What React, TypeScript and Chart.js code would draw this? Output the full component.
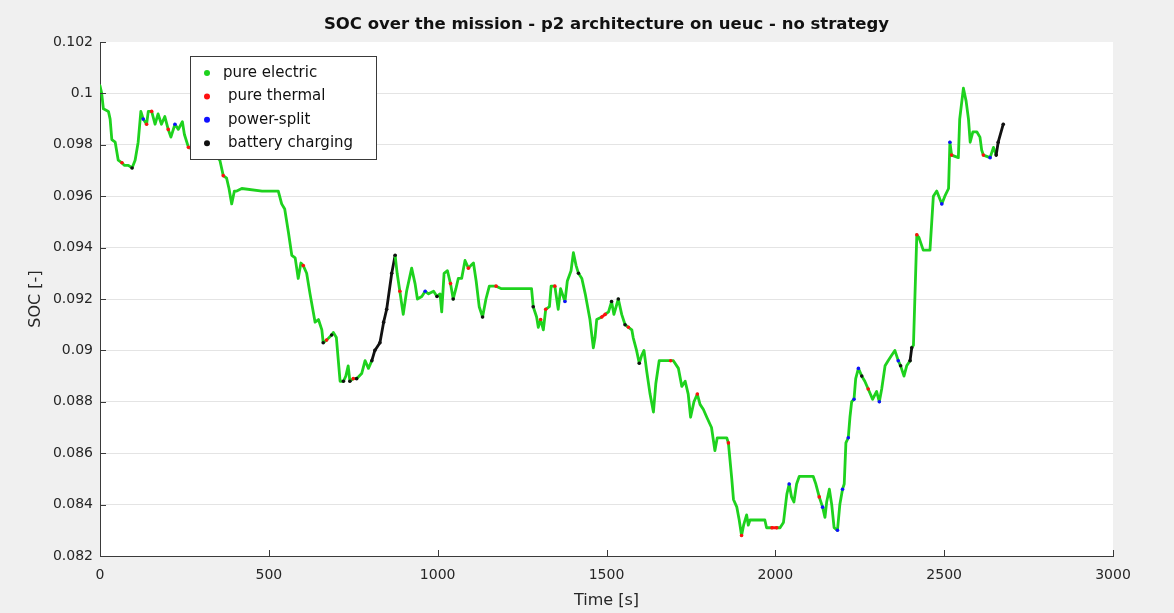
import React, { useEffect, useRef } from 'react';
import { Chart, registerables } from 'chart.js';

Chart.register(...registerables);

const TITLE = 'SOC over the mission - p2 architecture on ueuc - no strategy';
const X_LABEL = 'Time [s]';
const Y_LABEL = 'SOC [-]';
const X_TICKS = [0, 500, 1000, 1500, 2000, 2500, 3000];
const Y_TICKS = [0.082, 0.084, 0.086, 0.088, 0.09, 0.092, 0.094, 0.096, 0.098, 0.1, 0.102];
const LEGEND_LABELS = ['pure electric', 'pure thermal', 'power-split', 'battery charging'];
const MODE_KEYS = ['e', 't', 'p', 'c'];
const MODE_COLORS = ['#1ed21e', '#ff1010', '#1010ff', '#111111'];

// time [s]
const TIME = [
  0, 5, 10, 25, 30, 35, 45, 54, 65, 72,
  84, 95, 104, 113, 121, 128, 138, 143, 153, 163,
  172, 182, 192, 202, 210, 222, 232, 244, 250, 262,
  280, 310, 340, 355, 365, 375, 382, 390, 398, 405,
  420, 480, 528, 538, 547, 558, 568, 578, 587, 595,
  602, 612, 622, 637, 647, 657, 661, 671, 686, 691,
  700, 711, 721, 728, 735, 740, 750, 760, 775, 785,
  795, 805, 814, 829, 840, 849, 864, 874, 880, 888,
  898, 908, 923, 933, 940, 953, 963, 973, 988, 998,
  1007, 1012, 1019, 1029, 1038, 1046, 1054, 1061, 1071, 1081,
  1091, 1098, 1106, 1114, 1123, 1133, 1143, 1153, 1173, 1189,
  1278, 1283, 1293, 1298, 1305, 1313, 1320, 1331, 1336, 1347,
  1357, 1364, 1377, 1384, 1395, 1402, 1410, 1417, 1427, 1437,
  1451, 1461, 1466, 1471, 1486, 1496, 1506, 1515, 1522, 1535,
  1545, 1555, 1565, 1575, 1579, 1589, 1597, 1604, 1611, 1619,
  1629, 1639, 1646, 1656, 1668, 1690, 1698, 1713, 1723, 1733,
  1742, 1749, 1759, 1769, 1777, 1787, 1797, 1811, 1821, 1828,
  1841, 1856, 1861, 1871, 1876, 1886, 1893, 1900, 1906, 1915,
  1920, 1925, 1969, 1974, 1990, 2004, 2014, 2024, 2034, 2041,
  2048, 2055, 2063, 2071, 2112, 2120, 2130, 2140, 2147, 2152,
  2160, 2167, 2174, 2184, 2191, 2199, 2204, 2209, 2216, 2221,
  2226, 2233, 2238, 2246, 2256, 2265, 2275, 2288, 2300, 2308,
  2315, 2325, 2334, 2344, 2354, 2364, 2371, 2381, 2389, 2399,
  2404, 2409, 2419, 2425, 2438, 2458, 2468, 2478, 2493, 2502,
  2513, 2517, 2522, 2542, 2546, 2557, 2565, 2572, 2577, 2585,
  2597, 2606, 2611, 2616, 2636, 2646, 2654, 2660, 2675,
];

// state of charge [-]
const SOC = [
  0.1003, 0.1000, 0.0994, 0.0993, 0.0990, 0.0982, 0.0981, 0.0974, 0.0973, 0.0972,
  0.0972, 0.0971, 0.0974, 0.0981, 0.0993, 0.0990, 0.0988, 0.0993, 0.0993, 0.0988,
  0.0992, 0.0988, 0.0991, 0.0986, 0.0983, 0.0988, 0.0986, 0.0989, 0.0984, 0.0979,
  0.0978, 0.0977, 0.0976, 0.0974, 0.0968, 0.0967, 0.0963, 0.0957, 0.0962, 0.0962,
  0.0963, 0.0962, 0.0962, 0.0957, 0.0955, 0.0946, 0.0937, 0.0936, 0.0928, 0.0934,
  0.0933, 0.0930, 0.0922, 0.0911, 0.0912, 0.0908, 0.0903, 0.0904, 0.0906, 0.0907,
  0.0905, 0.0888, 0.0888, 0.0890, 0.0894, 0.0888, 0.0889, 0.0889, 0.0891, 0.0896,
  0.0893, 0.0896, 0.0900, 0.0903, 0.0911, 0.0916, 0.0930, 0.0937, 0.0930, 0.0923,
  0.0914, 0.0923, 0.0932, 0.0926, 0.0920, 0.0921, 0.0923, 0.0922, 0.0923, 0.0921,
  0.0922, 0.0915, 0.0930, 0.0931, 0.0926, 0.0920, 0.0924, 0.0928, 0.0928, 0.0935,
  0.0932, 0.0933, 0.0934, 0.0927, 0.0917, 0.0913, 0.0920, 0.0925, 0.0925, 0.0924,
  0.0924, 0.0917, 0.0913, 0.0909, 0.0912, 0.0908, 0.0916, 0.0917, 0.0925, 0.0925,
  0.0916, 0.0924, 0.0919, 0.0927, 0.0931, 0.0938, 0.0933, 0.0930, 0.0928, 0.0922,
  0.0912, 0.0901, 0.0905, 0.0912, 0.0913, 0.0914, 0.0915, 0.0919, 0.0914, 0.0920,
  0.0914, 0.0910, 0.0909, 0.0908, 0.0905, 0.0900, 0.0895, 0.0898, 0.0900, 0.0892,
  0.0883, 0.0876, 0.0887, 0.0896, 0.0896, 0.0896, 0.0896, 0.0893, 0.0886, 0.0888,
  0.0883, 0.0874, 0.0880, 0.0883, 0.0879, 0.0877, 0.0874, 0.0870, 0.0861, 0.0866,
  0.0866, 0.0866, 0.0864, 0.0850, 0.0842, 0.0839, 0.0834, 0.0828, 0.0832, 0.0836,
  0.0832, 0.0834, 0.0834, 0.0831, 0.0831, 0.0831, 0.0831, 0.0833, 0.0844, 0.0848,
  0.0843, 0.0841, 0.0848, 0.0851, 0.0851, 0.0848, 0.0843, 0.0839, 0.0835, 0.0841,
  0.0846, 0.0840, 0.0831, 0.0830, 0.0840, 0.0846, 0.0848, 0.0864, 0.0866, 0.0874,
  0.0880, 0.0881, 0.0889, 0.0893, 0.0890, 0.0888, 0.0885, 0.0881, 0.0884, 0.0880,
  0.0885, 0.0894, 0.0896, 0.0898, 0.0900, 0.0896, 0.0894, 0.0890, 0.0894, 0.0896,
  0.0901, 0.0902, 0.0945, 0.0944, 0.0939, 0.0939, 0.0960, 0.0962, 0.0957, 0.0960,
  0.0963, 0.0981, 0.0976, 0.0975, 0.0990, 0.1002, 0.0997, 0.0990, 0.0981, 0.0985,
  0.0985, 0.0983, 0.0978, 0.0976, 0.0975, 0.0979, 0.0976, 0.0981, 0.0988,
];

// operating mode at each sample
// e = pure electric, t = pure thermal, p = power-split, c = battery charging
const MODE = [
  'e', 'e', 'e', 'e', 'e', 'e', 'e', 'e', 't', 'e',
  'e', 'c', 'e', 'e', 'e', 'p', 't', 'e', 't', 'e',
  'e', 'e', 'e', 't', 'e', 'p', 'e', 'e', 'e', 't',
  'e', 'e', 'e', 'e', 't', 'e', 'e', 'e', 'e', 'e',
  'e', 'e', 'e', 'e', 'e', 'e', 'e', 'e', 'e', 'e',
  't', 'e', 'e', 'e', 'e', 'e', 'c', 't', 'c', 'e',
  'e', 'e', 'c', 'e', 'e', 'c', 't', 'c', 'e', 'e',
  'e', 'c', 'c', 'c', 'c', 'c', 'c', 'c', 'e', 't',
  'e', 'e', 'e', 'e', 'e', 'e', 'p', 'e', 'e', 'c',
  'e', 'e', 'e', 'e', 't', 'c', 'e', 'e', 'e', 'e',
  't', 'e', 'e', 'e', 'e', 'c', 'e', 'e', 't', 'e',
  'e', 'c', 'e', 'e', 't', 'e', 't', 'e', 'e', 't',
  'e', 'e', 'p', 'e', 'e', 'e', 'e', 'c', 'e', 'e',
  'e', 'e', 'e', 'e', 't', 't', 'e', 'c', 'e', 'c',
  'e', 'c', 't', 'e', 'e', 'e', 'c', 'e', 'e', 'e',
  'e', 'e', 'e', 'e', 'e', 't', 'e', 'e', 'e', 'e',
  'e', 'e', 'e', 't', 'e', 'e', 'e', 'e', 'e', 'e',
  'e', 'e', 't', 'e', 'e', 'e', 'e', 't', 'e', 'e',
  'e', 'e', 'e', 'e', 't', 't', 'e', 'e', 'e', 'p',
  'e', 'e', 'e', 'e', 'e', 'e', 't', 'p', 'e', 'e',
  'e', 'e', 'e', 'p', 'e', 'p', 'e', 'e', 'p', 'e',
  'e', 'p', 'e', 'p', 'c', 'e', 't', 'e', 'e', 'p',
  'e', 'e', 'e', 'e', 'e', 'p', 'c', 'e', 'e', 'c',
  'c', 'e', 't', 'e', 'e', 'e', 'e', 'e', 'p', 'e',
  'e', 'p', 't', 'e', 'e', 'e', 'e', 'e', 'e', 'e',
  'e', 'e', 'e', 't', 'p', 'e', 'c', 'c', 'c',
];

const FONT = '"DejaVu Sans", "Liberation Sans", Arial, sans-serif';

export default function App() {
  const ref = useRef<HTMLCanvasElement | null>(null);

  useEffect(() => {
    const canvas = ref.current;
    if (!canvas) return;
    const points = TIME.map((t, i) => ({ x: t, y: SOC[i] }));
    const colorOf = (i: number) => MODE_COLORS[Math.max(0, MODE_KEYS.indexOf(MODE[i]))];
    const segColor = (ctx: any) => {
      const a = MODE[ctx.p0DataIndex];
      const b = MODE[ctx.p1DataIndex];
      return a === b ? colorOf(ctx.p0DataIndex) : MODE_COLORS[0];
    };

    const backgroundPlugin = {
      id: 'figureBackground',
      beforeDraw(chart: any) {
        const { ctx, chartArea: a, width, height } = chart;
        ctx.save();
        ctx.fillStyle = '#f0f0f0';
        ctx.fillRect(0, 0, width, height);
        ctx.fillStyle = '#ffffff';
        ctx.fillRect(a.left, a.top, a.right - a.left, a.bottom - a.top);
        ctx.restore();
      },
    };

    const decorPlugin = {
      id: 'matlabDecor',
      afterDraw(chart: any) {
        const { ctx, chartArea: a, scales } = chart;
        ctx.save();
        // inward tick marks
        ctx.strokeStyle = '#3a3a3a';
        ctx.lineWidth = 1;
        ctx.beginPath();
        X_TICKS.forEach((v) => {
          const px = Math.round(scales.x.getPixelForValue(v)) + 0.5;
          ctx.moveTo(px, a.bottom);
          ctx.lineTo(px, a.bottom - 6);
        });
        Y_TICKS.forEach((v) => {
          const py = Math.round(scales.y.getPixelForValue(v)) + 0.5;
          ctx.moveTo(a.left, py);
          ctx.lineTo(a.left + 6, py);
        });
        ctx.stroke();

        // title
        ctx.fillStyle = '#111111';
        ctx.font = `bold 16.5px ${FONT}`;
        ctx.textAlign = 'center';
        ctx.textBaseline = 'middle';
        ctx.fillText(TITLE, (a.left + a.right) / 2, 25);

        // legend box
        const lx = 190, ly = 56, lw = 186, lh = 103;
        ctx.fillStyle = '#ffffff';
        ctx.fillRect(lx, ly, lw, lh);
        ctx.strokeStyle = '#3a3a3a';
        ctx.strokeRect(lx + 0.5, ly + 0.5, lw, lh);
        ctx.font = `15px ${FONT}`;
        ctx.textAlign = 'left';
        LEGEND_LABELS.forEach((label, i) => {
          const y = 73 + i * 23.4;
          ctx.fillStyle = MODE_COLORS[i];
          ctx.beginPath();
          ctx.arc(207, y, 3, 0, Math.PI * 2);
          ctx.fill();
          ctx.fillStyle = '#111111';
          ctx.fillText(label, i === 0 ? 223 : 228, y);
        });
        ctx.restore();
      },
    };

    const chart = new Chart(canvas, {
      type: 'line',
      data: {
        datasets: [
          {
            label: 'SOC',
            data: points,
            borderColor: MODE_COLORS[0],
            borderWidth: 2.8,
            pointRadius: (ctx: any) => (MODE[ctx.dataIndex] === 'e' ? 0 : 1.8),
            pointBackgroundColor: (ctx: any) => colorOf(ctx.dataIndex),
            pointBorderWidth: 0,
            pointHoverRadius: 0,
            tension: 0,
            borderJoinStyle: 'round',
            borderCapStyle: 'round',
            segment: {
              borderColor: segColor,
            },
          } as any,
        ],
      },
      options: {
        animation: false,
        responsive: false,
        devicePixelRatio: 1,
        layout: { padding: { top: 42, right: 61, bottom: 0, left: 0 } },
        plugins: {
          legend: { display: false },
          tooltip: { enabled: false },
          title: { display: false },
        },
        scales: {
          x: {
            type: 'linear',
            min: 0,
            max: 3000,
            afterBuildTicks: (scale: any) => {
              scale.ticks = X_TICKS.map((v) => ({ value: v }));
            },
            afterFit: (scale: any) => {
              scale.height = 57;
            },
            grid: { display: false, drawTicks: false },
            border: { display: true, color: '#3a3a3a', width: 1 },
            ticks: {
              color: '#262626',
              font: { family: FONT, size: 14 },
              padding: 11,
              maxRotation: 0,
              autoSkip: false,
              callback: (v: any) => String(v),
            },
            title: {
              display: true,
              text: X_LABEL,
              color: '#262626',
              font: { family: FONT, size: 16 },
              padding: { top: 0, bottom: 3 },
            },
          },
          y: {
            type: 'linear',
            min: 0.082,
            max: 0.102,
            afterBuildTicks: (scale: any) => {
              scale.ticks = Y_TICKS.map((v) => ({ value: v }));
            },
            afterFit: (scale: any) => {
              scale.width = 100;
            },
            grid: {
              drawTicks: false,
              color: (ctx: any) =>
                ctx.tick && Math.abs(ctx.tick.value - 0.102) < 1e-9 ? 'rgba(0,0,0,0)' : '#e4e4e4',
              lineWidth: 1,
            },
            border: { display: true, color: '#3a3a3a', width: 1 },
            ticks: {
              color: '#262626',
              font: { family: FONT, size: 14 },
              padding: 7,
              autoSkip: false,
              callback: (v: any) => String(Number(Number(v).toFixed(3))),
            },
            title: {
              display: true,
              text: Y_LABEL,
              color: '#262626',
              font: { family: FONT, size: 16 },
              padding: { top: 26, bottom: 0 },
            },
          },
        },
      } as any,
      plugins: [backgroundPlugin, decorPlugin],
    });

    return () => chart.destroy();
  }, []);

  return (
    <div style={{ position: 'fixed', left: 0, top: 0, width: 1174, height: 613, background: '#f0f0f0' }}>
      <canvas ref={ref} width={1174} height={613} style={{ width: 1174, height: 613, display: 'block' }} />
    </div>
  );
}
